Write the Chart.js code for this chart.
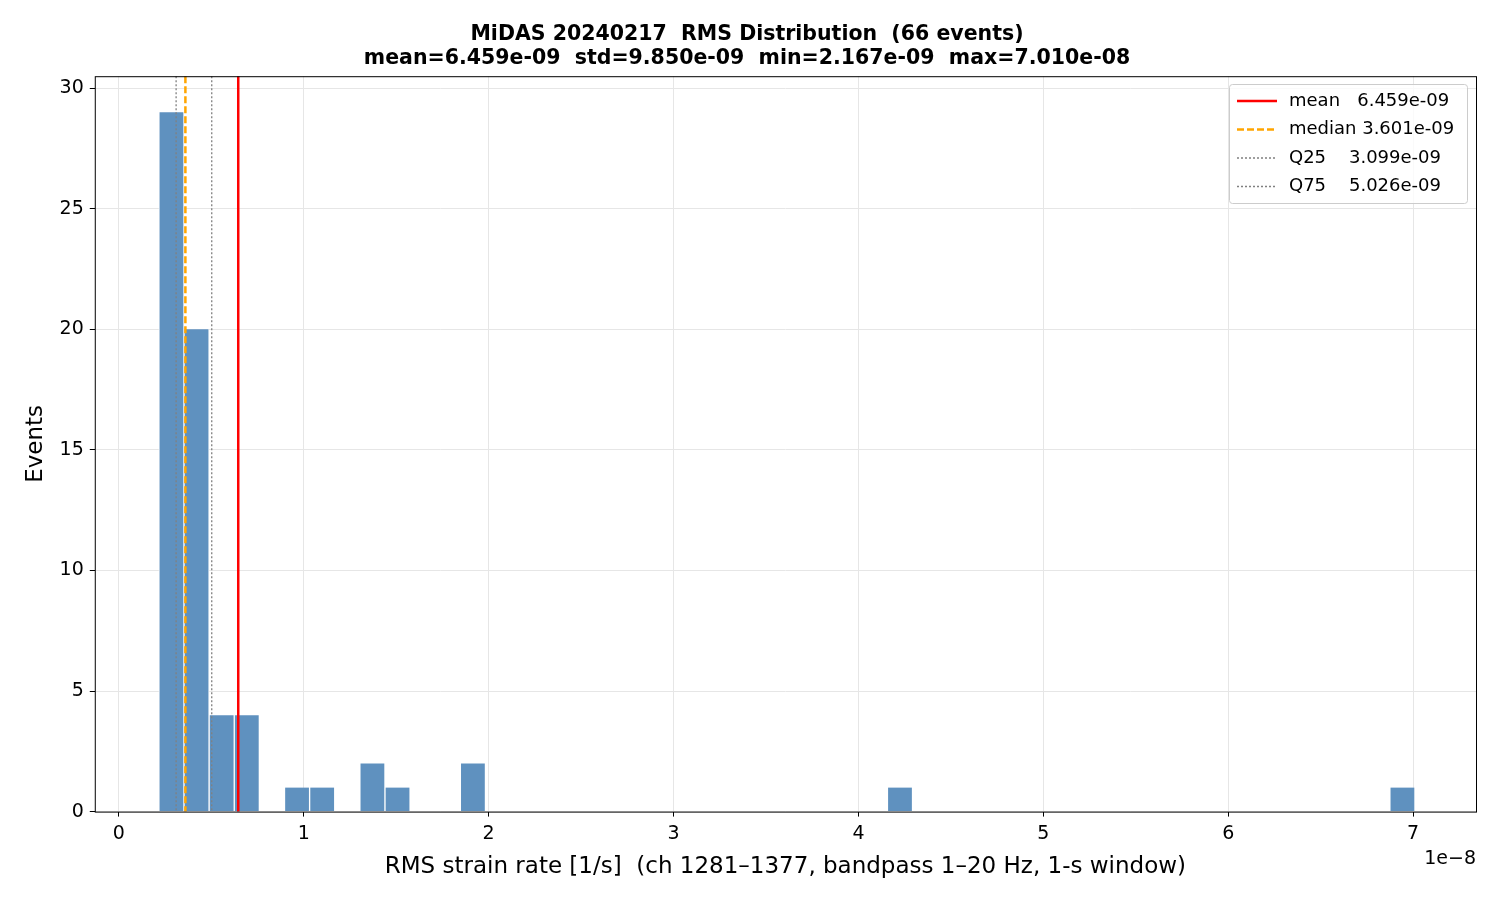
<!DOCTYPE html>
<html><head><meta charset="utf-8">
<script src="https://cdn.jsdelivr.net/npm/chart.js@4/dist/chart.umd.min.js"></script>
<style>body{margin:0;background:#fff}</style></head>
<body><canvas id="c" width="1500" height="900"></canvas>
<script>
const binMin = 2.167e-9;
const binMax = 7.010e-8;
const counts = [29,20,4,4,0,1,1,0,2,1,0,0,2,0,0,0,0,0,0,0,0,0,0,0,0,0,0,0,0,1,0,0,0,0,0,0,0,0,0,0,0,0,0,0,0,0,0,0,0,1];
const statNames = ['mean','median','Q25','Q75'];
const statValues = [6.459e-9, 3.601e-9, 3.099e-9, 5.026e-9];
const statLabels = ['mean   6.459e-09','median 3.601e-09','Q25    3.099e-09','Q75    5.026e-09'];
const statColors = ['#ff0000','#ffa500','#808080','#808080'];
const statDash = [[],[7,3],[2,2],[2,2]];
const statWidth = [2.5,2.5,1.3,1.3];
const xTicks = [0,1,2,3,4,5,6,7];

const bw = (binMax-binMin)/counts.length;
const barData = counts.map((c,i)=>({x: binMin + bw*(i+0.5), y: c}));
const font = "'DejaVu Sans', sans-serif";

const overlay = {
  id:'overlay',
  afterDatasetsDraw(ch){
    const {ctx, chartArea:a, scales:{x,y}} = ch;
    ctx.save();
    statValues.forEach((v,i)=>{
      const px = x.getPixelForValue(v);
      ctx.beginPath(); ctx.strokeStyle=statColors[i]; ctx.lineWidth=statWidth[i]; ctx.setLineDash(statDash[i]);
      ctx.moveTo(px,a.top); ctx.lineTo(px,a.bottom); ctx.stroke();
    });
    ctx.setLineDash([]);
    const lx=1229, ly=84, lw=238, lh=119;
    ctx.fillStyle='rgba(255,255,255,0.8)'; ctx.strokeStyle='#cccccc'; ctx.lineWidth=1;
    ctx.beginPath(); ctx.roundRect(lx+0.5,ly+0.5,lw,lh,3); ctx.fill(); ctx.stroke();
    ctx.font="18px "+font; ctx.textBaseline='middle';
    statLabels.forEach((t,i)=>{
      const yy = ly+17+i*28.5;
      ctx.beginPath(); ctx.strokeStyle=statColors[i]; ctx.lineWidth=statWidth[i]; ctx.setLineDash(statDash[i]);
      ctx.moveTo(lx+8,yy); ctx.lineTo(lx+48,yy); ctx.stroke(); ctx.setLineDash([]);
      ctx.fillStyle='#000'; ctx.fillText(t, lx+60, yy);
    });
    ctx.strokeStyle='#000'; ctx.lineWidth=1;
    ctx.strokeRect(a.left+0.5,a.top+0.5,a.right-a.left,a.bottom-a.top);
    ctx.font="19px "+font; ctx.textAlign='right'; ctx.textBaseline='top';
    ctx.fillStyle='#000';
    ctx.fillText('1e\u22128', a.right, 850);
    ctx.restore();
  }
};

new Chart(document.getElementById('c'), {
  type:'bar',
  data:{datasets:[{data:barData, backgroundColor:'#5f91bf', borderColor:'#ffffff', borderWidth:{left:1,right:1,top:0,bottom:0}, borderSkipped:false, barPercentage:1, categoryPercentage:1, grouped:false}]},
  options:{
    responsive:false, animation:false,
    layout:{padding:{left:18,right:24,top:0,bottom:15}},
    plugins:{
      legend:{display:false}, tooltip:{enabled:false},
      title:{display:true, text:['MiDAS 20240217  RMS Distribution  (66 events)','mean=6.459e-09  std=9.850e-09  min=2.167e-09  max=7.010e-08'], color:'#000', font:{family:font,size:20.5,weight:'bold'}, padding:{top:22,bottom:5}, lineHeight:1.15}
    },
    scales:{
      x:{type:'linear', min:-0.13e-8, max:7.34e-8, offset:false,
        afterBuildTicks(s){ s.ticks = xTicks.map(v=>({value:v*1e-8})); },
        ticks:{color:'#000', font:{family:font,size:19}, callback:v=>String(Math.round(v/1e-8)), maxRotation:0, padding:6},
        grid:{color:'#e6e6e6', tickColor:'#000', tickLength:5, drawTicks:true, offset:false},
        border:{display:false},
        title:{display:true, text:'RMS strain rate [1/s]  (ch 1281\u20131377, bandpass 1\u201320 Hz, 1-s window)', color:'#000', font:{family:font,size:23}, padding:{top:2}}
      },
      y:{min:0, max:30.5,
        afterBuildTicks(s){ s.ticks=[0,5,10,15,20,25,30].map(v=>({value:v})); },
        ticks:{color:'#000', font:{family:font,size:19}, padding:6},
        grid:{color:'#e6e6e6', tickColor:'#000', tickLength:5, offset:false},
        border:{display:false},
        title:{display:true, text:'Events', color:'#000', font:{family:font,size:23}}
      }
    }
  },
  plugins:[overlay]
});
</script></body></html>
